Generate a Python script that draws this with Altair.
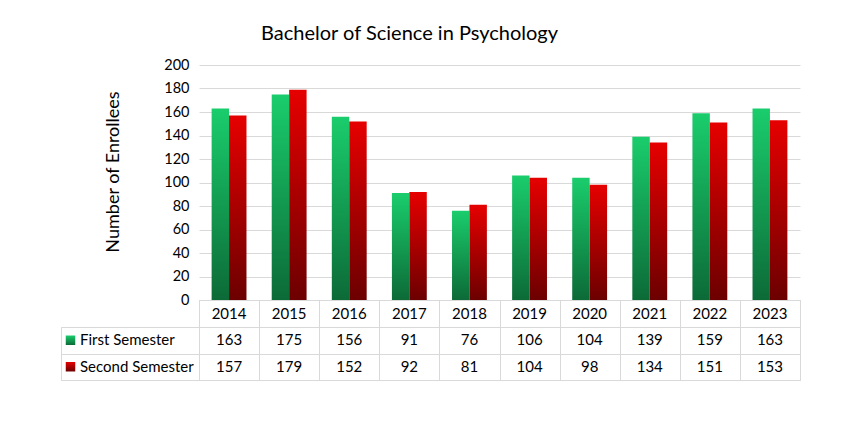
import altair as alt
import pandas as pd

# ---- data ----
years = ["2014", "2015", "2016", "2017", "2018", "2019", "2020", "2021", "2022", "2023"]
first_semester = [163, 175, 156, 91, 76, 106, 104, 139, 159, 163]
second_semester = [157, 179, 152, 92, 81, 104, 98, 134, 151, 153]
series = ["First Semester", "Second Semester"]
y_ticks = [0, 20, 40, 60, 80, 100, 120, 140, 160, 180, 200]

FONT = "Lato"
GRID = "#D9D9D9"
TXT = "#000000"

long = pd.DataFrame({
    "year": years * 2,
    "series": [series[0]] * len(years) + [series[1]] * len(years),
    "value": first_semester + second_semester,
})
year_df = pd.DataFrame({"year": years})
series_df = pd.DataFrame({"series": series})


def grad(top, bottom):
    return alt.Gradient(
        gradient="linear",
        stops=[alt.GradientStop(color=top, offset=0), alt.GradientStop(color=bottom, offset=1)],
        x1=0, x2=0, y1=0, y2=1,
    )


green = grad("#1ACD6C", "#0C6A37")
red = grad("#E60000", "#6C0000")

PLOT_W = 601
LABEL_W = 138
PLOT_H = 235
HDR_H = 27
ROWS_H = 53

# ---- bar chart ----
xs_bar = alt.Scale(domain=years, paddingInner=0.42, paddingOuter=0.21)
base = alt.Chart(long).encode(
    x=alt.X("year:N", scale=xs_bar, axis=None),
    xOffset=alt.XOffset("series:N", scale=alt.Scale(domain=series)),
    y=alt.Y(
        "value:Q",
        scale=alt.Scale(domain=[0, 200]),
        axis=alt.Axis(
            values=y_ticks, grid=True, gridColor=GRID, domain=False, ticks=False,
            labelFontSize=14.5, labelColor=TXT, labelPadding=10,
            title="Number of Enrollees", titleFontSize=18, titleFontWeight="normal",
            titleColor=TXT, titlePadding=41, titleY=106.5,
        ),
    ),
)
bars = alt.layer(
    base.transform_filter(alt.datum.series == series[0]).mark_bar(color=green),
    base.transform_filter(alt.datum.series == series[1]).mark_bar(color=red),
).properties(width=PLOT_W, height=PLOT_H)

# ---- data table ----
xs_tab = alt.Scale(domain=years, paddingInner=0, paddingOuter=0)
ys_tab = alt.Scale(domain=series, paddingInner=0, paddingOuter=0)
grid_x = alt.Axis(grid=True, gridColor=GRID, tickBand="extent", labels=False, ticks=False,
                  domain=False, title=None)
grid_y = alt.Axis(grid=True, gridColor=GRID, tickBand="extent", labels=False, ticks=False,
                  domain=False, title=None)
cell_view = alt.ViewBackground(stroke=GRID, strokeWidth=1)

header = alt.Chart(year_df).mark_text(font=FONT, fontSize=15, color=TXT).encode(
    x=alt.X("year:N", scale=xs_tab, axis=grid_x),
    text="year:N",
).properties(width=PLOT_W, height=HDR_H, view=cell_view)

values = alt.Chart(long).mark_text(font=FONT, fontSize=15, color=TXT).encode(
    x=alt.X("year:N", scale=xs_tab, axis=grid_x),
    y=alt.Y("series:N", scale=ys_tab, axis=grid_y),
    text="value:Q",
).properties(width=PLOT_W, height=ROWS_H, view=cell_view)

lab_base = alt.Chart(series_df).encode(y=alt.Y("series:N", scale=ys_tab, axis=grid_y))
labels = alt.layer(
    lab_base.mark_text(font=FONT, fontSize=15, color=TXT, align="left").encode(
        x=alt.value(19), text="series:N"),
    lab_base.transform_filter(alt.datum.series == series[0]).mark_square(
        size=90, fill=green, opacity=1).encode(x=alt.value(9.5)),
    lab_base.transform_filter(alt.datum.series == series[1]).mark_square(
        size=90, fill=red, opacity=1).encode(x=alt.value(9.5)),
).properties(width=LABEL_W, height=ROWS_H, view=cell_view)


def blank(w, h):
    return alt.Chart(pd.DataFrame({"v": [0]})).mark_point(opacity=0).encode(
        x=alt.X("v:Q", axis=None), y=alt.Y("v:Q", axis=None)
    ).properties(width=w, height=h)


chart = alt.concat(
    blank(LABEL_W, PLOT_H), bars,
    blank(LABEL_W, HDR_H), header,
    labels, values,
    columns=2, spacing=0, bounds="flush", align="each",
).properties(
    title=alt.TitleParams(
        text="Bachelor of Science in Psychology", font=FONT, fontSize=20,
        fontWeight="normal", color=TXT, anchor="middle", dx=-21, offset=13,
    ),
    padding={"left": 52, "top": 16, "right": 5, "bottom": 5},
).configure_view(stroke=None).configure_axis(labelFont=FONT, titleFont=FONT)

chart.save("out.html", embed_options={"renderer": "svg", "actions": False})
